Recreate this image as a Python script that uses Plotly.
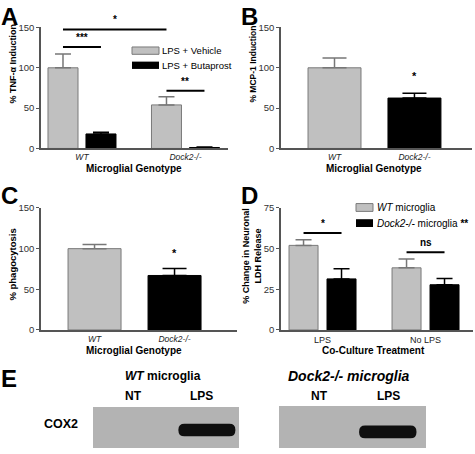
import plotly.graph_objects as go

# ---------------- data ----------------
genotypes = ["WT", "Dock2-/-"]
tnf_vehicle = [100, 54]
tnf_vehicle_err = [17, 10]
tnf_butaprost = [18, 1.2]
tnf_butaprost_err = [2, 0.5]
tnf_sig = [  # (bar a (group, series), bar b, y value, label)
    ((0, 0), (1, 0), 147.6, "*"),
    ((0, 0), (0, 1), 125.8, "***"),
    ((1, 0), (1, 1), 71.4, "**"),
]

mcp1 = [100, 62.5]
mcp1_err = [12, 6]
mcp1_sig = [(1, 80, "*")]

phago = [100, 67]
phago_err = [5, 8.5]
phago_sig = [(1, 85, "*")]

treatments = ["LPS", "No LPS"]
ldh_wt = [52, 38.2]
ldh_wt_err = [3.4, 5.4]
ldh_dock2 = [31.4, 27.8]
ldh_dock2_err = [6.2, 3.8]
ldh_sig = [
    ((0, 0), (0, 1), 59.6, "*"),
    ((1, 0), (1, 1), 47.8, "ns"),
]

blot_groups = ["<i>WT</i> microglia", "<i>Dock2-/- microglia</i>"]
blot_lanes = ["NT", "LPS"]
cox2_signal = [[0, 1], [0, 1]]

# ---------------- style ----------------
W, H = 475, 454
FONT = "Liberation Sans, Arial, Helvetica, sans-serif"
GRAY = "#c0c0c0"
GRAY_LINE = "#7a7a7a"
BLACK = "#000000"
AXC = "#555555"


def PX(x):
    return x / W


def PY(y):
    return 1 - y / H


fig = go.Figure()

# grouped-bar geometry (axis units)
G_W = 0.29
G_OFF = [-0.3285, 0.0386]
S_W = 0.6625
S_OFF = -0.331


def add_bar(x, y, err, color, line, ecolor, xa, ya, width, offset, ew):
    fig.add_trace(go.Bar(
        x=x, y=y, width=width, offset=offset,
        marker=dict(color=color, line=dict(color=line, width=1)),
        error_y=dict(type="data", array=err, arrayminus=[0] * len(err), symmetric=False,
                     color=ecolor, thickness=1.5, width=ew, visible=True),
        xaxis=xa, yaxis=ya, showlegend=False, hoverinfo="skip"))


# Panel A
add_bar([0, 1], tnf_vehicle, tnf_vehicle_err, GRAY, GRAY_LINE, "#777777", "x", "y", G_W, G_OFF[0], 8)
add_bar([0, 1], tnf_butaprost, tnf_butaprost_err, BLACK, BLACK, BLACK, "x", "y", G_W, G_OFF[1], 8)
# Panel B
add_bar([0], mcp1[:1], mcp1_err[:1], GRAY, GRAY_LINE, "#777777", "x2", "y2", S_W, S_OFF, 12)
add_bar([1], mcp1[1:], mcp1_err[1:], BLACK, BLACK, BLACK, "x2", "y2", S_W, S_OFF, 12)
# Panel C
add_bar([0], phago[:1], phago_err[:1], GRAY, GRAY_LINE, "#777777", "x3", "y3", S_W, S_OFF, 12)
add_bar([1], phago[1:], phago_err[1:], BLACK, BLACK, BLACK, "x3", "y3", S_W, S_OFF, 12)
# Panel D
D_W = 0.2816
D_OFF = [-0.325, 0.0437]
add_bar([0, 1], ldh_wt, ldh_wt_err, GRAY, GRAY_LINE, "#777777", "x4", "y4", D_W, D_OFF[0], 8)
add_bar([0, 1], ldh_dock2, ldh_dock2_err, BLACK, BLACK, BLACK, "x4", "y4", D_W, D_OFF[1], 8)

axis_common = dict(showline=True, linecolor=AXC, linewidth=1.5, showgrid=False, zeroline=False,
                   fixedrange=True)


def xaxis(dom, rng, labels, anchor, italic=True):
    txt = ["<i>%s</i>" % l for l in labels] if italic else labels
    return dict(domain=[PX(dom[0]), PX(dom[1])], range=rng, anchor=anchor,
                tickvals=list(range(len(labels))), ticktext=txt, ticks="",
                tickfont=dict(family=FONT, size=8.5 if italic else 9, color="#222"), **axis_common)


def yaxis(dom, rng, tv, anchor):
    return dict(domain=[PY(dom[0]), PY(dom[1])], range=rng, anchor=anchor, tickvals=tv,
                ticks="outside", ticklen=3, tickwidth=1.2, tickcolor=AXC,
                tickfont=dict(family=FONT, size=9.5, color="#333"), **axis_common)


fig.update_layout(
    width=W, height=H, margin=dict(l=0, r=0, t=0, b=0),
    paper_bgcolor="white", plot_bgcolor="rgba(0,0,0,0)",
    barmode="overlay", showlegend=False,
    font=dict(family=FONT, color="#000"),
    xaxis=xaxis((41, 228), [-0.396, 1.411], genotypes, "y"),
    yaxis=yaxis((146, 22), [0, 150], [0, 50, 100, 150], "x"),
    xaxis2=xaxis((281, 472), [-0.669, 1.72], genotypes, "y2"),
    yaxis2=yaxis((146, 22), [0, 150], [0, 50, 100, 150], "x2"),
    xaxis3=xaxis((41, 237), [-0.669, 1.781], genotypes, "y3"),
    yaxis3=yaxis((332, 207), [0, 150], [0, 50, 100, 150], "x3"),
    xaxis4=xaxis((281, 473), [-0.403, 1.461], treatments, "y4", italic=False),
    yaxis4=yaxis((332, 207), [0, 75], [0, 25, 50, 75], "x4"),
)

shapes = []
annos = []


def sig_group(sigs, offs, width, xa, ya):
    for a, b, yv, lab in sigs:
        xa_c = a[0] + offs[a[1]] + width / 2
        xb_c = b[0] + offs[b[1]] + width / 2
        shapes.append(dict(type="line", xref=xa, yref=ya, x0=xa_c, x1=xb_c, y0=yv, y1=yv,
                           line=dict(color="black", width=2)))
        annos.append(dict(xref=xa, yref=ya, x=(xa_c + xb_c) / 2, y=yv, yshift=2, text="<b>%s</b>" % lab,
                          showarrow=False, yanchor="bottom", font=dict(size=10, family=FONT, color="#000")))


sig_group(tnf_sig, G_OFF, G_W, "x", "y")
sig_group(ldh_sig, D_OFF, D_W, "x4", "y4")


def sig_single(sigs, xa, ya):
    for i, yv, lab in sigs:
        annos.append(dict(xref=xa, yref=ya, x=i, y=yv, text="<b>%s</b>" % lab, showarrow=False,
                          yanchor="bottom", font=dict(size=11, family=FONT, color="#000")))


sig_single(mcp1_sig, "x2", "y2")
sig_single(phago_sig, "x3", "y3")


def ptext(x, y, text, size, xanchor="center", yanchor="middle", angle=0):
    annos.append(dict(xref="paper", yref="paper", x=PX(x), y=PY(y), text=text, showarrow=False,
                      xanchor=xanchor, yanchor=yanchor, textangle=angle,
                      font=dict(size=size, family=FONT, color="#000")))


def prect(x0, y0, x1, y1, fill, line=None):
    shapes.append(dict(type="rect", xref="paper", yref="paper", x0=PX(x0), x1=PX(x1), y0=PY(y1), y1=PY(y0),
                       fillcolor=fill, line=dict(color=line or fill, width=1 if line else 0)))


# panel letters
for lx, ly, L in [(0, 11, "A"), (240, 11, "B"), (0, 194, "C"), (240, 194, "D"), (0, 382, "E")]:
    ptext(lx - 1, ly, "<b>%s</b>" % L, 24, xanchor="left")

# axis titles
ptext(13, 59, "<b>% TNF-α Induction</b>", 9, angle=-90)
ptext(134, 167, "<b>Microglial Genotype</b>", 10)
ptext(253, 60, "<b>% MCP-1 Induction</b>", 8.5, angle=-90)
ptext(374, 167, "<b>Microglial Genotype</b>", 10)
ptext(13, 265, "<b>% phagocytosis</b>", 9.5, angle=-90)
ptext(134, 353, "<b>Microglial Genotype</b>", 10)
ptext(252, 256, "<b>% Change in Neuronal<br>LDH Release</b>", 9, angle=-90)
ptext(373, 353, "<b>Co-Culture Treatment</b>", 10)

# legend A
prect(132, 42, 159, 49.5, GRAY, GRAY_LINE)
prect(132, 57, 159, 64.5, BLACK)
ptext(160, 46, "LPS + Vehicle", 9.5, xanchor="left")
ptext(160, 61, "LPS + Butaprost", 9.5, xanchor="left")
# legend D
prect(356, 202.5, 373, 210.5, GRAY, GRAY_LINE)
prect(356, 218.5, 373, 226.5, BLACK)
ptext(375, 206.5, "<i>WT</i> microglia", 10, xanchor="left")
ptext(375, 222.5, "<i>Dock2-/-</i> microglia <b>**</b>", 10, xanchor="left")

# Panel E: western blot
blot_box = [(93, 411, 239, 453), (279, 410, 426, 453)]
band_y = [(428, 441), (430, 443)]
lane_frac = [0.275, 0.745]
group_label = [(163, 12), (349, 14)]
for g, (bx0, by0, bx1, by1) in enumerate(blot_box):
    prect(bx0, by0, bx1, by1, "#b3b3b3")
    ptext(group_label[g][0], 379, "<b>%s</b>" % blot_groups[g], group_label[g][1])
    bw = bx1 - bx0
    for li, lane in enumerate(blot_lanes):
        lx = bx0 + bw * lane_frac[li]
        ptext(lx, 400, "<b>%s</b>" % lane, 12)
        s = cox2_signal[g][li]
        if s > 0:
            c = bx0 + bw * 0.78 if g == 0 else bx0 + bw * 0.74
            hw = bw * 0.195
            y0, y1 = band_y[g]
            r = 6
            x0, x1 = c - hw, c + hw
            path = ("M {a},{b} L {c_},{b} Q {d},{b} {d},{e} L {d},{f} Q {d},{g} {c_},{g} "
                    "L {a},{g} Q {h},{g} {h},{f} L {h},{e} Q {h},{b} {a},{b} Z").format(
                a=PX(x0 + r), b=PY(y0), c_=PX(x1 - r), d=PX(x1), e=PY(y0 + r),
                f=PY(y1 - r), g=PY(y1), h=PX(x0))
            shapes.append(dict(type="path", xref="paper", yref="paper", path=path,
                               fillcolor="rgba(15,15,15,%g)" % s, line=dict(width=0)))
ptext(61, 428, "<b>COX2</b>", 12.5)

fig.update_layout(shapes=shapes, annotations=annos)
fig.write_html("out.html", config={"displayModeBar": False},
               post_script="document.body.style.margin='0px';document.body.style.padding='0px';")
